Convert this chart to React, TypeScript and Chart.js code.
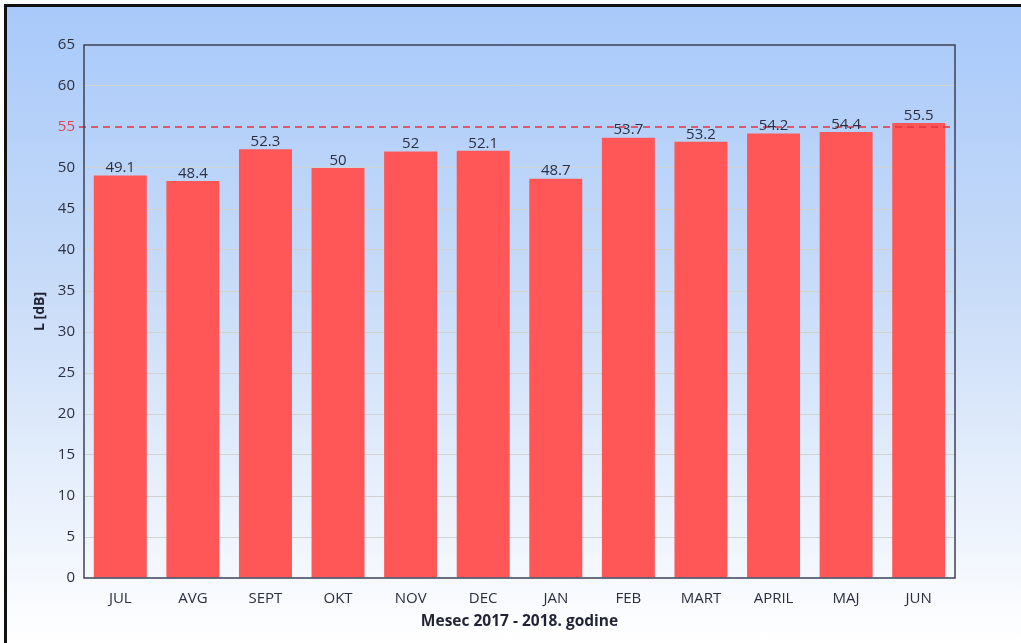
import React, { useEffect, useRef } from "react";
import { Chart, registerables } from "chart.js";

Chart.register(...registerables);

const categories = ["JUL", "AVG", "SEPT", "OKT", "NOV", "DEC", "JAN", "FEB", "MART", "APRIL", "MAJ", "JUN"];
const values = [49.1, 48.4, 52.3, 50, 52, 52.1, 48.7, 53.7, 53.2, 54.2, 54.4, 55.5];
const limitValue = 55;
const yMin = 0;
const yMax = 65;
const yStep = 5;
const xTitle = "Mesec 2017 - 2018. godine";
const yTitle = "L [dB]";

const FONT = "'Open Sans', 'Noto Sans', sans-serif";
const TEXT = "#2b2f42";

const plotBorder = {
  id: "plotBorder",
  afterDraw(chart: any) {
    const { ctx, chartArea } = chart;
    ctx.save();
    ctx.strokeStyle = "#3c4258";
    ctx.lineWidth = 1.5;
    ctx.strokeRect(chartArea.left, chartArea.top, chartArea.right - chartArea.left, chartArea.bottom - chartArea.top);
    ctx.restore();
  },
};

const limitLine = {
  id: "limitLine",
  afterDatasetsDraw(chart: any) {
    const { ctx, chartArea, scales } = chart;
    const y = scales.y.getPixelForValue(limitValue);
    ctx.save();
    ctx.strokeStyle = "#e2343f";
    ctx.lineWidth = 1.4;
    ctx.setLineDash([7, 5]);
    ctx.beginPath();
    ctx.moveTo(chartArea.left - 5, y);
    ctx.lineTo(chartArea.right, y);
    ctx.stroke();
    ctx.restore();
  },
};

const valueLabels = {
  id: "valueLabels",
  afterDraw(chart: any) {
    const { ctx } = chart;
    const meta = chart.getDatasetMeta(0);
    ctx.save();
    ctx.font = `15px ${FONT}`;
    ctx.fillStyle = TEXT;
    ctx.textAlign = "center";
    ctx.textBaseline = "bottom";
    meta.data.forEach((bar: any, i: number) => {
      ctx.fillText(String(values[i]), bar.x, bar.y);
    });
    ctx.restore();
  },
};

export default function App() {
  const ref = useRef<HTMLCanvasElement>(null);
  useEffect(() => {
    document.body.style.margin = "0";
    const chart = new Chart(ref.current!, {
      type: "bar",
      data: {
        labels: categories,
        datasets: [
          {
            data: values,
            backgroundColor: "#ff5757",
            borderWidth: 0,
            barPercentage: 0.73,
            categoryPercentage: 1,
          },
        ],
      },
      options: {
        animation: false,
        responsive: false,
        maintainAspectRatio: false,
        layout: { padding: { left: 32, right: 66, top: 45, bottom: 12 } },
        plugins: { legend: { display: false }, tooltip: { enabled: false } },
        scales: {
          x: {
            grid: { display: false, drawTicks: false },
            border: { display: false },
            ticks: { color: TEXT, font: { family: FONT, size: 15 }, padding: 12, maxRotation: 0 },
            title: { display: true, text: xTitle, color: "#1f2334", font: { family: FONT, size: 15.5, weight: "bold" }, padding: 0 },
            afterFit: (s: any) => { s.height = 53; },
          },
          y: {
            min: yMin,
            max: yMax,
            ticks: {
              stepSize: yStep,
              padding: 9,
              color: (c: any) => (c.tick && c.tick.value === limitValue ? "#e0405a" : TEXT),
              font: { family: FONT, size: 15 },
            },
            grid: {
              drawTicks: false,
              color: (c: any) => (c.tick && (c.tick.value === limitValue || c.tick.value === yMin || c.tick.value === yMax) ? "rgba(0,0,0,0)" : "#d2d2d2"),
              lineWidth: 1,
            },
            border: { display: false },
            title: { display: true, text: yTitle, color: "#1f2334", font: { family: FONT, size: 14, weight: "bold" }, padding: 0 },
            afterFit: (s: any) => { s.width = 52; },
          },
        },
      },
      plugins: [limitLine, valueLabels, plotBorder],
    });
    return () => chart.destroy();
  }, []);

  return (
    <div style={{ position: "relative", width: 1021, height: 643, background: "#fff", overflow: "hidden" }}>
      <div
        style={{
          position: "absolute",
          left: 4,
          top: 4,
          width: 1017,
          height: 639,
          borderLeft: "3px solid #111",
          borderTop: "3px solid #111",
          boxSizing: "border-box",
          background: "linear-gradient(#a8c9fa 0%, #c9dcf8 45%, #ffffff 100%)",
        }}
      />
      <canvas ref={ref} width={1021} height={643} style={{ position: "absolute", left: 0, top: 0 }} />
    </div>
  );
}
